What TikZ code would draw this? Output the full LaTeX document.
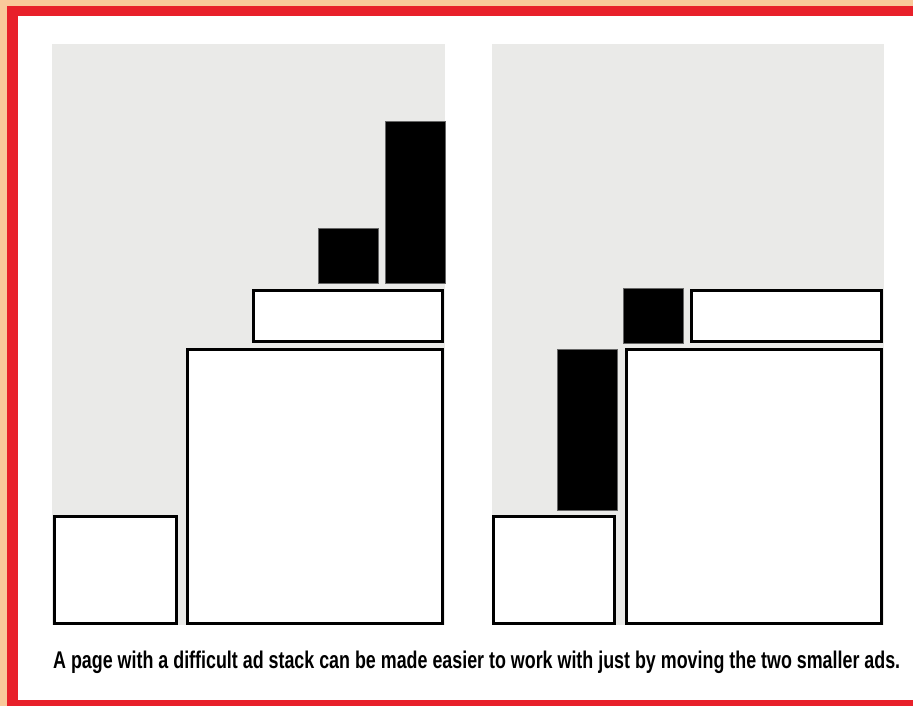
\documentclass[tikz,border=0pt]{standalone}
\usepackage{fontspec}
\setmainfont{Liberation Sans}
\definecolor{peach}{HTML}{F9C99B}
\definecolor{framered}{HTML}{E8202A}
\definecolor{panelgray}{HTML}{EAEAE8}
\begin{document}
\begin{tikzpicture}[x=1pt,y=-1pt,
  adbox/.style={draw=black,line width=3pt,fill=white},
  blackad/.style={fill=black,draw=black!60,line width=0.6pt},
  panel/.style={fill=panelgray}]
\useasboundingbox (0,0) rectangle (913,706);
\fill[peach] (0,0) rectangle (913,706);
\fill[framered] (7,6) rectangle (913,706);
\fill[white] (18,16) rectangle (913,700);
% left panel
\fill[panel] (52,44) rectangle (445,625);
\draw[adbox] (54.5,516.5) rectangle (176.5,623.5);
\draw[adbox] (187.5,349.5) rectangle (442.5,623.5);
\draw[adbox] (253.5,290.5) rectangle (442.5,341.5);
\draw[blackad] (318,228) rectangle (378.5,283);
\draw[blackad] (385,121) rectangle (445,283);
% right panel
\fill[panel] (492,44) rectangle (884,625);
\draw[adbox] (493.5,516.5) rectangle (614.5,623.5);
\draw[blackad] (557,349) rectangle (617,510);
\draw[adbox] (626.5,349.5) rectangle (881.5,623.5);
\draw[blackad] (623,288) rectangle (683.5,343);
\draw[adbox] (691.5,290.5) rectangle (881.5,341.5);
% caption
\node[anchor=base west,inner sep=0pt] (cap) at (53,668.5)
  {\resizebox{847pt}{17.5pt}{\bfseries A page with a difficult ad stack can be made easier to work with just by moving the two smaller ads.}};
\end{tikzpicture}
\end{document}
